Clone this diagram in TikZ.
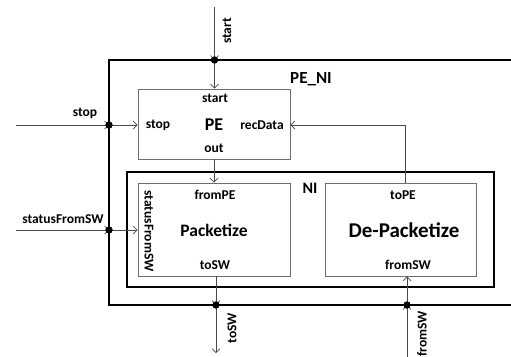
\documentclass[tikz,border=0pt]{standalone}
\usepackage{fontspec}
\setmainfont{Carlito}
\usetikzlibrary{arrows.meta}
\definecolor{lc}{HTML}{4A4A4A}
\begin{document}
\begin{tikzpicture}[x=1pt,y=-1pt,
  lbl/.style={font=\bfseries\fontsize{13.5}{15}\selectfont, inner sep=0pt, text=black},
  big/.style={font=\bfseries\fontsize{17}{19}\selectfont, inner sep=0pt, text=black},
  blk/.style={draw=lc!80, line width=0.7pt, fill=white, inner sep=0pt},
  frame/.style={draw=black, line width=1.8pt},
  wire/.style={draw=lc, line width=0.7pt, -{Straight Barb[length=4pt,width=8pt,line width=0.7pt]}},
  dotn/.style={circle, fill=black, inner sep=0pt, minimum size=7pt}]
\useasboundingbox (0,0) rectangle (511,356);
% frames
\draw[frame] (109,60) rectangle (512,305);
\draw[frame] (127,172) rectangle (494,287);
% blocks
\node[blk, minimum width=152pt, minimum height=70pt] (pe) at (214,124) {};
\node[blk, minimum width=152pt, minimum height=93pt] (pk) at (214,229.5) {};
\node[blk, minimum width=151pt, minimum height=93pt] (dp) at (400.5,229.5) {};
% dots
\node[dotn] (dstart) at (214.5,60) {};
\node[dotn] (dstop) at (109,125) {};
\node[dotn] (dstat) at (109,230) {};
\node[dotn] (dtosw) at (216,305) {};
\node[dotn] (dfrom) at (407,305) {};
% free ends
\coordinate (startT) at (214.5,7);
\coordinate (stopL) at (16,125);
\coordinate (statL) at (16,230);
\coordinate (toswE) at (216,353);
\coordinate (fromE) at (407,357);
% wires
\draw[wire] (startT) -- (dstart.center);
\draw[wire] (dstart.center) -- (pe.north -| dstart);
\draw[wire] (stopL) -- (dstop.center);
\draw[wire] (dstop.center) -- (pe.west |- dstop);
\draw[wire] (statL) -- (dstat.center);
\draw[wire] (dstat.center) -- (pk.west |- dstat);
\draw[wire] (pe.south) -- (pk.north);
\draw[wire] (pk.south -| dtosw) -- (dtosw.center);
\draw[wire] (dtosw.center) -- (toswE);
\draw[wire] (fromE) -- (dfrom.center);
\draw[wire] (dfrom.center) -- (dp.south -| dfrom);
\draw[wire] (dp.north -| 405,0) |- (pe.east |- dstop);
% redraw dots on top
\fill (dstart.center) circle (3.6pt);
\fill (dstop.center) circle (3.6pt);
\fill (dstat.center) circle (3.6pt);
\fill (dtosw.center) circle (3.6pt);
\fill (dfrom.center) circle (3.6pt);
% outer labels
\node[lbl, rotate=90] (lstart) at (227,31) {start};
\node[lbl] (lstop) at (85,113) {stop};
\node[lbl] (lstat) at (63,219) {statusFromSW};
\node[big] (lpeni) at (311,79) {PE\_NI};
\node[big, font=\bfseries\fontsize{16}{18}\selectfont] (lni) at (310,188) {NI};
\node[lbl, rotate=90] (ltosw) at (232,328) {toSW};
\node[lbl, rotate=90] (lfrom) at (422,334) {fromSW};
% PE labels
\node[lbl] (pestart) at (215,98) {start};
\node[lbl] (pestop) at (158,125) {stop};
\node[big, font=\bfseries\fontsize{18}{20}\selectfont] (pename) at (214,125) {PE};
\node[lbl] (perec) at (262,125) {recData};
\node[lbl] (peout) at (214,148) {out};
% Packetize labels
\node[lbl] (pkfrom) at (215,195) {fromPE};
\node[big, font=\bfseries\fontsize{17.5}{19}\selectfont] (pkname) at (214,230) {Packetize};
\node[lbl] (pktosw) at (215,265) {toSW};
\node[lbl, rotate=-90] (pkstat) at (149,231) {statusFromSW};
% De-Packetize labels
\node[lbl] (dptope) at (403,195) {toPE};
\node[big, font=\bfseries\fontsize{21}{23}\selectfont] (dpname) at (404,230) {De-Packetize};
\node[lbl] (dpfrom) at (408,265) {fromSW};
\end{tikzpicture}
\end{document}
